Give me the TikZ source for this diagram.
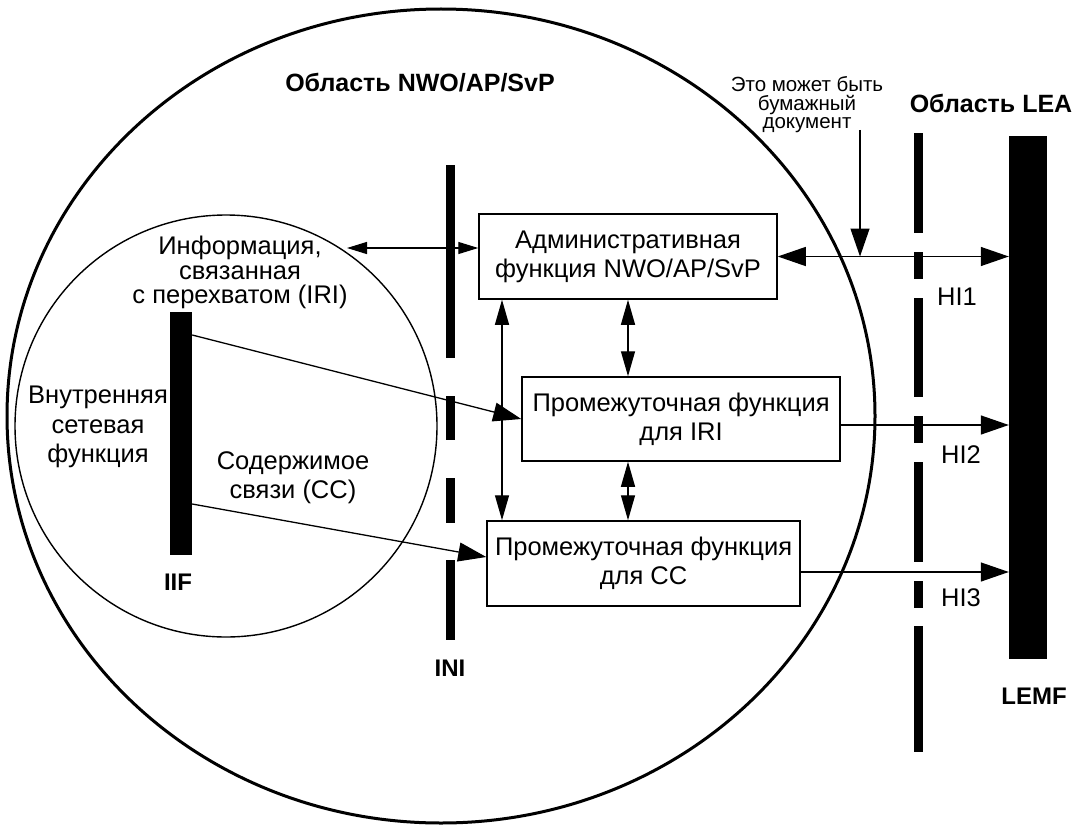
\documentclass[tikz,border=0pt]{standalone}
\usepackage{fontspec}
\setmainfont{Liberation Sans}
\usetikzlibrary{arrows.meta}
\tikzset{
  bigtip/.tip={Triangle[length=28pt,width=19pt]},
  midtip/.tip={Triangle[length=25pt,width=14pt]},
  smalltip/.tip={Triangle[length=20pt,width=12pt]},
  conn/.style={line width=1.3pt},
  box/.style={draw, line width=1.5pt, align=center, inner sep=0pt, font=\fontsize{25.5}{29}\selectfont},
  bar/.style={fill=black, draw=none, inner sep=0pt, minimum width=9pt},
  txt/.style={align=center, inner sep=0pt, font=\fontsize{25.5}{29}\selectfont},
  lbl/.style={inner sep=0pt, font=\fontsize{24}{29}\selectfont\bfseries},
  reg/.style={inner sep=0pt, font=\fontsize{25}{29}\selectfont\bfseries},
}
\begin{document}
\begin{tikzpicture}[x=1pt,y=-1pt]
\useasboundingbox (0,0) rectangle (1078,824);
% domains
\draw[line width=3pt] (441,416) ellipse [x radius=434, y radius=407];
\draw[line width=1.4pt] (226,426) circle [radius=211];
% bars
\node[bar, minimum width=22pt, minimum height=243pt] (iif) at (181,433.5) {};
\node[bar, minimum width=38pt, minimum height=523pt] (lemf) at (1028,397.5) {};
\foreach \n/\a/\b in {1/165/358, 2/396/440, 3/478/523, 4/560/640}
  \node[bar, minimum height={(\b-\a)*1pt}] (ini\n) at (450,{(\a+\b)/2}) {};
\foreach \n/\a/\b in {1/133/233, 2/252/279, 3/298/397, 4/416/443, 5/462/562, 6/581/608, 7/626/752}
  \node[bar, minimum height={(\b-\a)*1pt}] (hi\n) at (918.5,{(\a+\b)/2}) {};
% boxes
\node[box, minimum width=298pt, minimum height=85pt] (admin) at (628,256.5) {Административная\\функция NWO/AP/SvP};
\node[box, minimum width=318pt, minimum height=84pt] (iri) at (681,419) {Промежуточная функция\\для IRI};
\node[box, minimum width=313pt, minimum height=85pt] (cc) at (643.5,563.5) {Промежуточная функция\\для CC};
% texts
\node[reg] (nwo) at (420,83) {Область NWO/AP/SvP};
\node[reg] (lea) at (991,103) {Область LEA};
\node[align=center, inner sep=0pt, font=\fontsize{20.5}{18.5}\selectfont] (paper) at (807,105) {Это может быть\\бумажный\\документ};
\node[txt, font=\fontsize{25.5}{24.5}\selectfont] (iritxt) at (240,272.5) {Информация,\\связанная\\с перехватом (IRI)};
\node[txt, font=\fontsize{25.5}{29.5}\selectfont] (inf) at (98,427) {Внутренняя\\сетевая\\функция};
\node[txt] (cctxt) at (293,477.5) {Содержимое\\связи (CC)};
\node[lbl] (iiflbl) at (178,582) {IIF};
\node[lbl] (inilbl) at (450,668) {INI};
\node[lbl] (lemflbl) at (1034,696) {LEMF};
\node[txt] (hi1l) at (957,297) {HI1};
\node[txt] (hi2l) at (961,455) {HI2};
\node[txt] (hi3l) at (961,598) {HI3};
% connectors
\coordinate (vx) at (502,0);
\draw[conn, midtip-midtip] (admin.south -| vx) -- (cc.north -| vx);
\draw[conn, midtip-midtip] (admin.south) -- (admin.south |- iri.north);
\draw[conn, midtip-midtip] (iri.south -| admin.south) -- (cc.north -| admin.south);
\coordinate (irit) at (347,248);
\draw[conn, smalltip-smalltip] (irit) -- (irit -| admin.west);
\draw[conn, bigtip-bigtip] (admin.east) -- (admin.east -| lemf.west);
\coordinate (ptop) at (860,130);
\draw[conn, -bigtip] (ptop) -- (ptop |- admin.east);
\coordinate (h2) at (iri.east |- 0,425);
\draw[conn, -bigtip] (h2) -- (h2 -| lemf.west);
\coordinate (h3) at (cc.east |- 0,572);
\draw[conn, -bigtip] (h3) -- (h3 -| lemf.west);
\coordinate (i1) at (iif.east |- 0,335);
\draw[conn, -bigtip] (i1) -- (iri.west);
\coordinate (i2) at (iif.east |- 0,504);
\coordinate (c2) at (cc.west |- 0,557);
\draw[conn, -bigtip] (i2) -- (c2);
\end{tikzpicture}
\end{document}
